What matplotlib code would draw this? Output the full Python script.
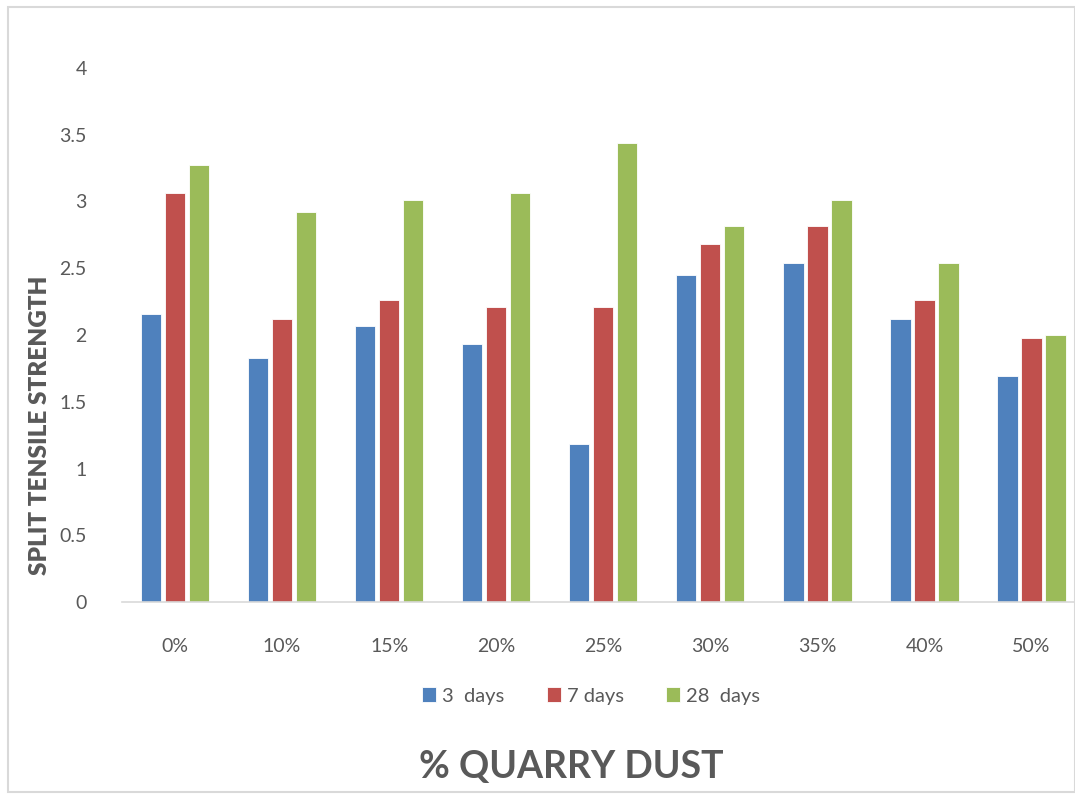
import numpy as np
import matplotlib.pyplot as plt
from matplotlib.patches import Rectangle

categories = ['0%', '10%', '15%', '20%', '25%', '30%', '35%', '40%', '50%']
days_3 = [2.16, 1.83, 2.07, 1.93, 1.18, 2.45, 2.54, 2.12, 1.69]
days_7 = [3.06, 2.12, 2.26, 2.21, 2.21, 2.68, 2.82, 2.26, 1.98]
days_28 = [3.27, 2.92, 3.01, 3.06, 3.44, 2.82, 3.01, 2.54, 2.00]
series_names = ['3  days', '7 days', '28  days']
colors = ['#4f81bd', '#c0504d', '#9bbb59']

plt.rcParams['font.family'] = ['Lato', 'DejaVu Sans']
grey = '#595959'

fig = plt.figure(figsize=(10.75, 7.94), dpi=100)
fig.patches.append(Rectangle((8 / 1075, 0.002), 1 - 8 / 1075, 1 - 7 / 794 - 0.002,
                             transform=fig.transFigure, fill=False,
                             edgecolor='#d9d9d9', linewidth=1.5))
# plot area runs past the right edge of the picture, as in the original crop
ax = fig.add_axes([121.5 / 1075, 1 - 602 / 794, (1085 - 121.5) / 1075, (602 - 68) / 794])

x = np.arange(len(categories))
step = 0.224
w = 0.19
for i, (vals, name, c) in enumerate(zip([days_3, days_7, days_28], series_names, colors)):
    ax.bar(x + (i - 1) * step, vals, w, color=c, edgecolor='white', linewidth=0.6, label=name)

ax.set_xlim(-0.5, len(categories) - 0.5)
ax.set_ylim(0, 4)
ax.set_yticks(np.arange(0, 4.01, 0.5))
ax.set_yticklabels(['0', '0.5', '1', '1.5', '2', '2.5', '3', '3.5', '4'])
ax.set_xticks(x)
ax.set_xticklabels(categories)
ax.tick_params(axis='both', length=0, labelsize=14, labelcolor=grey)
ax.tick_params(axis='y', pad=25)
ax.tick_params(axis='x', pad=26)
for s in ['top', 'right', 'left']:
    ax.spines[s].set_visible(False)
ax.spines['bottom'].set_color('#d9d9d9')
ax.spines['bottom'].set_linewidth(1.2)

fig.text(40 / 1075, 1 - 425 / 794, 'SPLIT TENSILE STRENGTH', rotation=90,
         ha='center', va='center', fontsize=17.5, fontweight='heavy', color=grey)

fig.legend(loc='center', bbox_to_anchor=(0.550, 1 - 696 / 794), ncol=3, frameon=False,
           fontsize=14.5, labelcolor=grey, handlelength=0.7, handleheight=0.7,
           handletextpad=0.3, columnspacing=2.1)
fig.text(571 / 1075, 1 - 767 / 794, '% QUARRY DUST', ha='center', va='center',
         fontsize=27, fontweight='bold', color=grey)

fig.savefig('out.png', dpi=100)
